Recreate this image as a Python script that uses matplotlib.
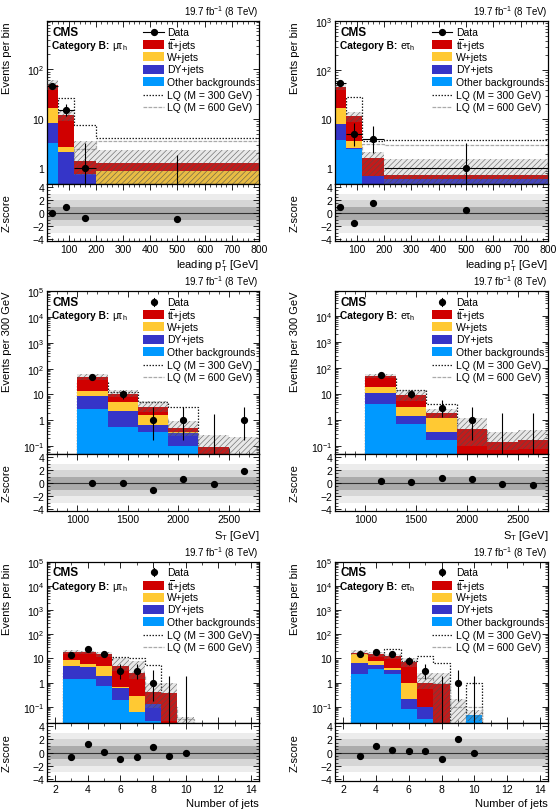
import numpy as np
import matplotlib
matplotlib.use('Agg')
import matplotlib.pyplot as plt
from matplotlib.patches import Rectangle
from matplotlib.lines import Line2D
from matplotlib.ticker import MultipleLocator, LogLocator, FuncFormatter, NullFormatter

plt.rcParams['font.family'] = ['Liberation Sans', 'DejaVu Sans']
plt.rcParams['mathtext.fontset'] = 'custom'
plt.rcParams['mathtext.rm'] = 'Liberation Sans'
plt.rcParams['mathtext.it'] = 'Liberation Sans:italic'
plt.rcParams['mathtext.bf'] = 'Liberation Sans:bold'
plt.rcParams['hatch.linewidth'] = 0.45

# ---------------- data ----------------
# Leading tau pT, mu-tau_h
pt_edges = [20, 60, 120, 200, 800]
pt_mt_other = [3.3, 0.3, 0.05, 0.02]
pt_mt_dy = [5.0, 1.8, 0.7, 0.3]
pt_mt_w = [8.2, 0.6, 0.0, 0.55]
pt_mt_tt = [32.0, 9.3, 0.68, 0.42]
pt_mt_unc_up = [13.5, 2.8, 2.2, 1.0]
pt_mt_unc_dn = [10.0, 3.0, 0.7, 0.8]
pt_mt_data = [46, 15, 1, 0]
pt_mt_z = [0.0, 0.9, -0.8, -0.9]
pt_mt_lq300 = [10.0, 26.0, 7.6, 4.0]
pt_mt_lq600 = [0.8, 1.5, 2.5, 3.6]

# Leading tau pT, e-tau_h
pt_et_other = [3.7, 2.5, 0.05, 0.05]
pt_et_dy = [4.4, 0.1, 0.64, 0.57]
pt_et_w = [8.5, 1.0, 0.0, 0.0]
pt_et_tt = [29.4, 8.0, 0.9, 0.1]
pt_et_unc_up = [5.0, 2.5, 0.6, 0.8]
pt_et_unc_dn = [6.0, 3.0, 0.9, 0.5]
pt_et_data = [54, 5, 4, 1]
pt_et_z = [0.9, -1.55, 1.6, 0.45]
pt_et_lq300 = [10.0, 28.0, 3.6, 3.7]
pt_et_lq600 = [1.0, 2.0, 3.2, 3.0]

# S_T
st_edges = [1000, 1300, 1600, 1900, 2200, 2500, 2800]
st_mt_other = [2.85, 0.53, 0.36, 0.10, 0.005, 0.003]
st_mt_dy = [5.55, 1.77, 0.30, 0.22, 0.005, 0.003]
st_mt_w = [5.1, 3.0, 0.91, 0.03, 0.005, 0.003]
st_mt_tt = [35.5, 5.6, 1.73, 0.15, 0.075, 0.03]
st_mt_unc_up = [14.0, 4.0, 2.2, 0.45, 0.19, 0.19]
st_mt_unc_dn = [12.0, 3.0, 1.2, 0.25, 0.05, 0.02]
st_mt_data = [48, 10, 1, 1, 0, 1]
st_mt_z = [0.0, 0.1, -1.0, 0.7, -0.15, 1.9]
st_mt_lq300 = [30.0, 12.0, 5.0, 3.3, 0.02, 0.01]
st_mt_lq600 = [0.5, 1.0, 1.2, 0.3, 0.07, 0.02]

st_et_other = [4.3, 0.70, 0.18, 0.005, 0.003, 0.003]
st_et_dy = [6.3, 0.8, 0.16, 0.005, 0.003, 0.003]
st_et_w = [7.4, 1.7, 0.82, 0.005, 0.003, 0.003]
st_et_tt = [31.0, 5.8, 0.64, 0.45, 0.13, 0.17]
st_et_unc_up = [9.0, 5.8, 0.8, 0.77, 0.22, 0.23]
st_et_unc_dn = [9.0, 3.5, 0.6, 0.36, 0.07, 0.1]
st_et_data = [52, 10, 3, 1, 0, 0]
st_et_z = [0.3, 0.25, 0.85, 0.7, -0.2, -0.25]
st_et_lq300 = [45.0, 14.8, 4.3, 0.3, 0.05, 0.02]
st_et_lq600 = [1.0, 1.5, 1.1, 0.4, 0.1, 0.1]

# Number of jets
nj_edges = [2.5, 3.5, 4.5, 5.5, 6.5, 7.5, 8.5, 9.5, 10.5]
nj_mt_other = [1.46, 1.46, 0.73, 0.19, 0.062, 0.025, 0.003, 0.003]
nj_mt_dy = [3.44, 2.84, 1.07, 0.43, 0.0, 0.105, 0.002, 0.002]
nj_mt_w = [4.0, 1.4, 3.1, 0.02, 0.22, 0.0, 0.0, 0.0]
nj_mt_tt = [9.1, 12.3, 10.1, 4.3, 2.3, 0.26, 0.38, 0.01]
nj_mt_unc_up = [4.0, 3.0, 4.0, 5.9, 5.4, 0.56, 0.57, 0.021]
nj_mt_unc_dn = [3.0, 3.0, 3.0, 2.0, 1.2, 0.3, 0.36, 0.012]
nj_mt_data = [14, 24, 16, 3, 3, 1, 0, 0]
nj_mt_z = [-0.7, 1.25, 0.05, -0.95, -0.6, 0.8, -0.55, -0.05]
nj_mt_lq300 = [3.0, 6.0, 9.0, 12.0, 10.0, 5.2, 0.01, 0.005]
nj_mt_lq600 = [0.3, 0.8, 1.5, 2.0, 2.0, 0.35, 0.1, 0.03]

nj_et_other = [2.2, 3.6, 2.2, 0.08, 0.03, 0.005, 0.003, 0.045]
nj_et_dy = [4.1, 1.6, 1.1, 0.13, 0.064, 0.005, 0.003, 0.0]
nj_et_w = [8.7, 2.7, 0.9, 0.79, 0.0, 0.0, 0.0, 0.0]
nj_et_tt = [2.5, 7.1, 8.5, 6.1, 0.9, 0.85, 0.01, 0.0]
nj_et_unc_up = [4.5, 3.6, 3.3, 3.7, 1.6, 1.75, 0.19, 0.025]
nj_et_unc_dn = [3.0, 3.0, 3.0, 2.5, 0.45, 0.85, 0.015, 0.02]
nj_et_data = [16, 19, 16, 8, 3, 0, 1, 0]
nj_et_z = [-0.5, 1.05, 0.4, 0.25, 0.25, -0.95, 2.0, -0.1]
nj_et_lq300 = [2.0, 3.0, 24.0, 8.0, 12.7, 6.3, 0.005, 0.95]
nj_et_lq600 = [0.3, 0.6, 1.0, 1.5, 1.5, 1.0, 0.1, 0.1]

legend_labels = ['Data', r'$\mathrm{t}\overline{\mathrm{t}}$+jets', 'W+jets', 'DY+jets',
                 'Other backgrounds', 'LQ (M = 300 GeV)', 'LQ (M = 600 GeV)']

C_TT = '#d00000'
C_W = '#ffc933'
C_DY = '#3535c8'
C_OT = '#0099ff'

panels = [
    dict(edges=pt_edges, other=pt_mt_other, dy=pt_mt_dy, w=pt_mt_w, tt=pt_mt_tt,
         up=pt_mt_unc_up, dn=pt_mt_unc_dn, data=pt_mt_data, z=pt_mt_z,
         lq3=pt_mt_lq300, lq6=pt_mt_lq600, chan=r'$\mathrm{\mu\tau_h}$',
         xlim=(20, 800), ylim=(0.48, 950), ylabel='Events per bin',
         xlabel=r'leading p$_\mathrm{T}^{\tau}$ [GeV]', xmaj=100, xmin=20, xerr=True),
    dict(edges=pt_edges, other=pt_et_other, dy=pt_et_dy, w=pt_et_w, tt=pt_et_tt,
         up=pt_et_unc_up, dn=pt_et_unc_dn, data=pt_et_data, z=pt_et_z,
         lq3=pt_et_lq300, lq6=pt_et_lq600, chan=r'$\mathrm{e\tau_h}$',
         xlim=(20, 800), ylim=(0.48, 1000), ylabel='Events per bin',
         xlabel=r'leading p$_\mathrm{T}^{\tau}$ [GeV]', xmaj=100, xmin=20, xerr=True),
    dict(edges=st_edges, other=st_mt_other, dy=st_mt_dy, w=st_mt_w, tt=st_mt_tt,
         up=st_mt_unc_up, dn=st_mt_unc_dn, data=st_mt_data, z=st_mt_z,
         lq3=st_mt_lq300, lq6=st_mt_lq600, chan=r'$\mathrm{\mu\tau_h}$',
         xlim=(700, 2800), ylim=(0.05, 1e5), ylabel='Events per 300 GeV',
         xlabel=r'S$_\mathrm{T}$ [GeV]', xmaj=500, xmin=100, xerr=False),
    dict(edges=st_edges, other=st_et_other, dy=st_et_dy, w=st_et_w, tt=st_et_tt,
         up=st_et_unc_up, dn=st_et_unc_dn, data=st_et_data, z=st_et_z,
         lq3=st_et_lq300, lq6=st_et_lq600, chan=r'$\mathrm{e\tau_h}$',
         xlim=(700, 2800), ylim=(0.05, 9e4), ylabel='Events per 300 GeV',
         xlabel=r'S$_\mathrm{T}$ [GeV]', xmaj=500, xmin=100, xerr=False),
    dict(edges=nj_edges, other=nj_mt_other, dy=nj_mt_dy, w=nj_mt_w, tt=nj_mt_tt,
         up=nj_mt_unc_up, dn=nj_mt_unc_dn, data=nj_mt_data, z=nj_mt_z,
         lq3=nj_mt_lq300, lq6=nj_mt_lq600, chan=r'$\mathrm{\mu\tau_h}$',
         xlim=(1.5, 14.5), ylim=(0.021, 1e5), ylabel='Events per bin',
         xlabel='Number of jets', xmaj=2, xmin=1, xerr=False),
    dict(edges=nj_edges, other=nj_et_other, dy=nj_et_dy, w=nj_et_w, tt=nj_et_tt,
         up=nj_et_unc_up, dn=nj_et_unc_dn, data=nj_et_data, z=nj_et_z,
         lq3=nj_et_lq300, lq6=nj_et_lq600, chan=r'$\mathrm{e\tau_h}$',
         xlim=(1.5, 14.5), ylim=(0.021, 1e5), ylabel='Events per bin',
         xlabel='Number of jets', xmaj=2, xmin=1, xerr=False),
]

W, H = 560, 812
col_left = [47, 335]
col_w = [212, 213]
main_top = [22, 292, 563]
main_bot = [185, 455, 724]
ratio_bot = [242, 512, 782]

fig = plt.figure(figsize=(W / 100, H / 100), dpi=100)


def add_ax(x0, ytop, w, h):
    return fig.add_axes([x0 / W, 1 - (ytop + h) / H, w / W, h / H])


def logfmt(v, pos):
    e = int(round(np.log10(v)))
    if e == 0:
        return '1'
    if e == 1:
        return '10'
    return r'$10^{%d}$' % e


def poisson_err(n):
    n = np.asarray(n, float)
    ns = np.maximum(n, 1e-9)
    lo = np.where(n > 0, ns * (1 - 1 / (9 * ns) - 1 / (3 * np.sqrt(ns))) ** 3, 0.0)
    m = n + 1
    hi = m * (1 - 1 / (9 * m) + 1 / (3 * np.sqrt(m))) ** 3
    return n - lo, hi - n


FS = 7.5
MS = 4.2
TINY = 1e-6

for i, p in enumerate(panels):
    r, c = divmod(i, 2)
    x0, w = col_left[c], col_w[c]
    ax = add_ax(x0, main_top[r], w, main_bot[r] - main_top[r])
    rx = add_ax(x0, main_bot[r], w, ratio_bot[r] - main_bot[r])

    edges = np.array(p['edges'], float)
    centers = 0.5 * (edges[1:] + edges[:-1])
    halfw = 0.5 * (edges[1:] - edges[:-1])
    layers = [(p['other'], C_OT), (p['dy'], C_DY), (p['w'], C_W), (p['tt'], C_TT)]
    base = np.full(len(centers), TINY)
    ax.set_yscale('log')
    # LQ signals (drawn beneath the stack)
    ax.stairs(p['lq3'], edges, baseline=TINY, color='#222222', lw=0.9, ls=(0, (1.2, 1.2)), zorder=1)
    ax.stairs(p['lq6'], edges, baseline=TINY, color='#aaaaaa', lw=0.9, ls=(0, (3, 1)), zorder=1)
    for vals, col in layers:
        top = base + np.array(vals, float)
        ax.stairs(top, edges, baseline=base, fill=True, color=col, lw=0, zorder=2)
        base = top
    total = base
    hi = total + np.array(p['up'])
    lo = np.maximum(total - np.array(p['dn']), TINY)
    ax.bar(edges[:-1], hi - lo, width=np.diff(edges), bottom=lo, align='edge',
           facecolor=(0.55, 0.55, 0.55, 0.2), edgecolor=(0.3, 0.3, 0.3, 0.8),
           hatch='//////', linewidth=0, zorder=3)
    data = np.array(p['data'], float)
    edn, eup = poisson_err(data)
    ax.errorbar(centers, np.where(data > 0, data, TINY), yerr=[np.where(data > 0, edn, 0), eup],
                xerr=halfw if p['xerr'] else None, fmt='o', color='k', ms=MS, lw=0.8,
                capsize=0, zorder=5)
    ax.set_xlim(*p['xlim'])
    ax.set_ylim(*p['ylim'])
    ax.yaxis.set_major_locator(LogLocator(base=10, numticks=20))
    ax.yaxis.set_minor_locator(LogLocator(base=10, subs=np.arange(2, 10), numticks=20))
    ax.yaxis.set_major_formatter(FuncFormatter(logfmt))
    ax.yaxis.set_minor_formatter(NullFormatter())
    ax.xaxis.set_major_locator(MultipleLocator(p['xmaj']))
    ax.xaxis.set_minor_locator(MultipleLocator(p['xmin']))
    ax.tick_params(labelbottom=False)
    ax.set_ylabel(p['ylabel'], fontsize=8, loc='top')
    ax.yaxis.set_label_coords(-0.165, 1.0)

    # texts
    ax.text(1.0, 1.012, r'19.7 fb$^{-1}$ (8 TeV)', transform=ax.transAxes, ha='right',
            va='bottom', fontsize=7)
    ax.text(0.025, 0.935, 'CMS', transform=ax.transAxes, ha='left', va='center',
            fontsize=8.5, fontweight='bold')
    ax.text(0.025, 0.85, 'Category B:', transform=ax.transAxes, ha='left', va='center',
            fontsize=7.3, fontweight='bold')
    ax.text(0.305, 0.845, p['chan'], transform=ax.transAxes, ha='left', va='center',
            fontsize=7.5)

    # legend (manual)
    lx0, lx1, tx = 0.455, 0.55, 0.568
    ys = [0.935, 0.855, 0.78, 0.705, 0.628, 0.548, 0.47]
    for k, (lab, yy) in enumerate(zip(legend_labels, ys)):
        ax.text(tx, yy, lab, transform=ax.transAxes, ha='left', va='center', fontsize=FS, zorder=10)
    xm = 0.5 * (lx0 + lx1)
    if p['xerr']:
        ax.add_line(Line2D([lx0, lx1], [ys[0], ys[0]], transform=ax.transAxes, color='k', lw=0.8, zorder=10))
    else:
        ax.add_line(Line2D([xm, xm], [ys[0] - 0.025, ys[0] + 0.025], transform=ax.transAxes, color='k', lw=0.8, zorder=10))
    ax.add_line(Line2D([xm], [ys[0]], transform=ax.transAxes, marker='o', ms=MS, color='k', zorder=10))
    for (col, yy) in zip([C_TT, C_W, C_DY, C_OT], ys[1:5]):
        ax.add_patch(Rectangle((lx0, yy - 0.028), lx1 - lx0, 0.056, transform=ax.transAxes,
                               facecolor=col, edgecolor='none', zorder=10))
    ax.add_line(Line2D([lx0, lx1], [ys[5], ys[5]], transform=ax.transAxes, color='#222222', lw=0.9,
                       ls=(0, (1.2, 1.2)), zorder=10))
    ax.add_line(Line2D([lx0, lx1], [ys[6], ys[6]], transform=ax.transAxes, color='#aaaaaa', lw=0.9,
                       ls=(0, (3, 1)), zorder=10))

    # ratio panel
    rx.axhspan(-3, 3, color='#ececec', lw=0, zorder=0)
    rx.axhspan(-2, 2, color='#d6d6d6', lw=0, zorder=0)
    rx.axhspan(-1, 1, color='#ababab', lw=0, zorder=0)
    rx.axhline(0, color='#333333', lw=0.8, zorder=1)
    rx.plot(centers, p['z'], 'o', color='k', ms=MS, zorder=3)
    rx.set_xlim(*p['xlim'])
    rx.set_ylim(-4.3, 4.5)
    rx.yaxis.set_major_locator(MultipleLocator(2))
    rx.yaxis.set_minor_locator(MultipleLocator(0.5))
    rx.xaxis.set_major_locator(MultipleLocator(p['xmaj']))
    rx.xaxis.set_minor_locator(MultipleLocator(p['xmin']))
    rx.set_ylabel('Z-score', fontsize=8)
    rx.yaxis.set_label_coords(-0.165, 0.5)
    rx.set_xlabel(p['xlabel'], fontsize=8, loc='right', labelpad=3)

    for a in (ax, rx):
        a.tick_params(which='both', direction='in', top=True, right=True, labelsize=FS, pad=2)
        a.tick_params(which='major', length=4.5, width=0.6)
        a.tick_params(which='minor', length=2.3, width=0.5)
        for s in a.spines.values():
            s.set_linewidth(0.9)

fig.savefig('out.png', dpi=100)
